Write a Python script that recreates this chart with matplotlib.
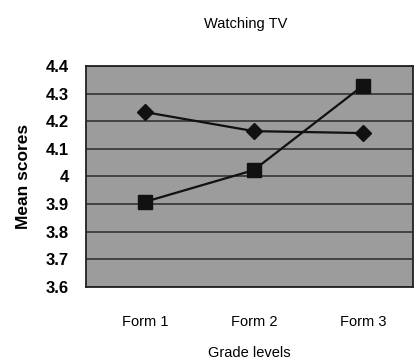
import matplotlib
matplotlib.use("Agg")
import matplotlib.pyplot as plt

forms = ["Form 1", "Form 2", "Form 3"]
diamond_scores = [4.233, 4.164, 4.157]
square_scores = [3.908, 4.023, 4.328]
yticks = [3.6, 3.7, 3.8, 3.9, 4.0, 4.1, 4.2, 4.3, 4.4]
ytick_labels = ["3.6", "3.7", "3.8", "3.9", "4", "4.1", "4.2", "4.3", "4.4"]

plt.rcParams['font.family'] = ['Liberation Sans', 'DejaVu Sans']

fig = plt.figure(figsize=(4.15, 3.62), dpi=100)
ax = fig.add_axes([0.207, 0.207, 0.788, 0.611])
ax.set_facecolor('#9c9c9c')

x = list(range(len(forms)))
ax.plot(x, diamond_scores, color='#111111', lw=1.6, marker='D', ms=8,
        markerfacecolor='#111111', markeredgecolor='#111111', zorder=3)
ax.plot(x, square_scores, color='#111111', lw=1.6, marker='s', ms=10,
        markerfacecolor='#111111', markeredgecolor='#111111', zorder=3)

ax.set_ylim(3.6, 4.4)
ax.set_xlim(-0.54, 2.46)
ax.set_yticks(yticks)
ax.set_yticklabels(ytick_labels, fontsize=12, fontweight='bold')
ax.set_xticks(x)
ax.set_xticklabels(forms, fontsize=10.5)
ax.tick_params(axis='y', length=0, pad=12)
ax.tick_params(axis='x', length=0, pad=20)
ax.grid(axis='y', color='#333333', lw=1.2)
ax.set_axisbelow(True)
for s in ax.spines.values():
    s.set_color('#222222')
    s.set_linewidth(1.3)

ax.set_ylabel('Mean scores', fontsize=12.5, fontweight='bold', labelpad=11)
ax.set_xlabel('Grade levels', fontsize=10.5, labelpad=12)
fig.text(0.593, 0.935, 'Watching TV', ha='center', va='center', fontsize=10.5)

fig.savefig('out.png', dpi=100)
